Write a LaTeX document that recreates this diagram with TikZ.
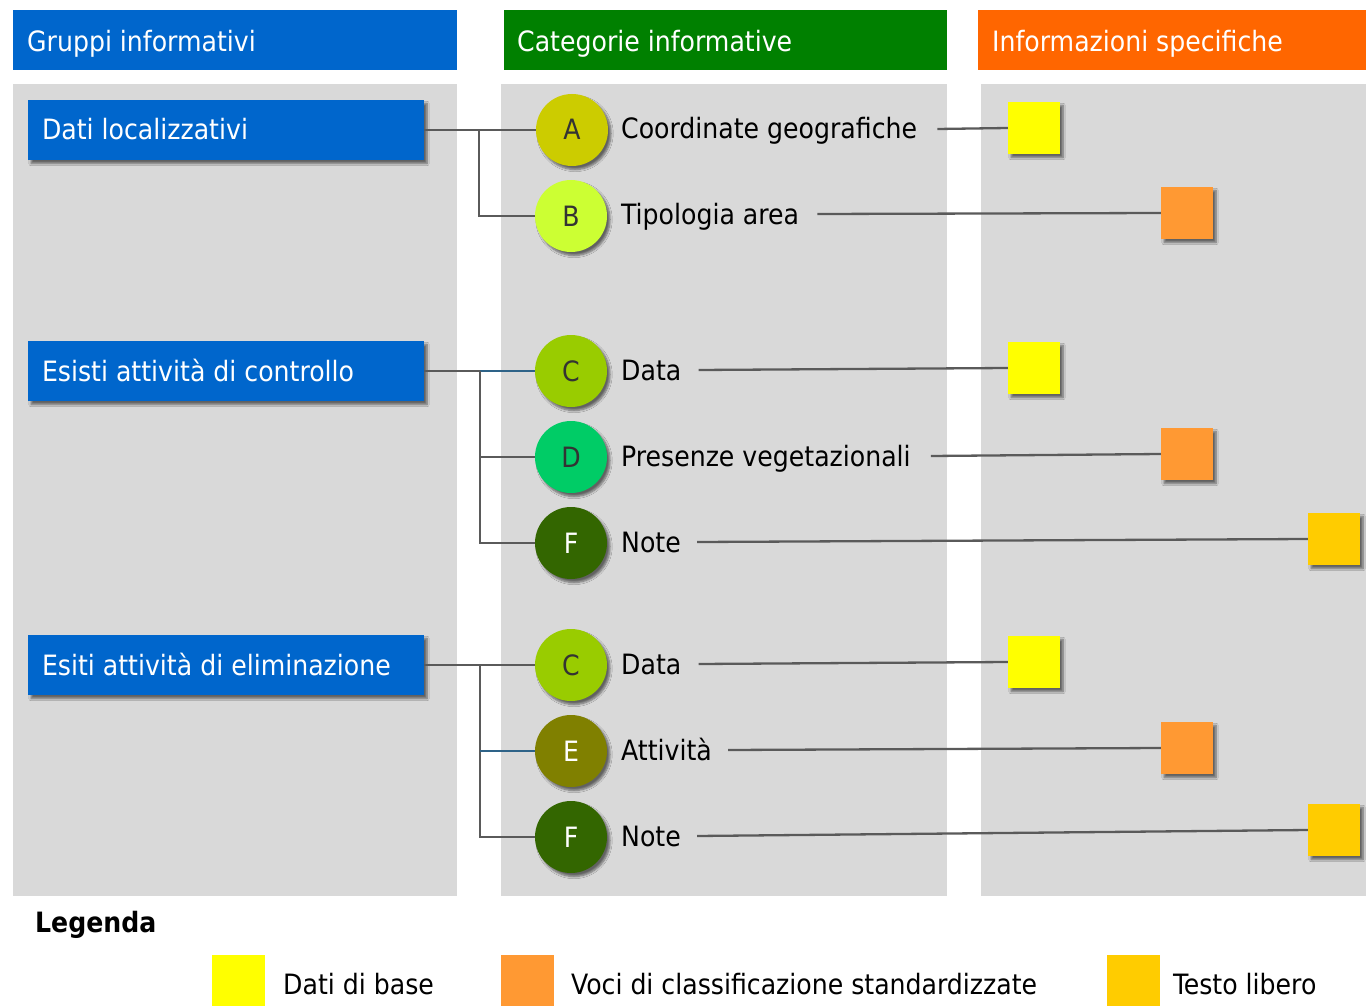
\documentclass[tikz,border=0pt]{standalone}
\usepackage{fontspec}
\setmainfont{DejaVu Sans Condensed}[BoldFont={DejaVu Sans Condensed Bold}]
\usetikzlibrary{shadows.blur}

\definecolor{hblue}{HTML}{0066CC}
\definecolor{hgreen}{HTML}{008000}
\definecolor{horange}{HTML}{FF6600}
\definecolor{panel}{HTML}{D9D9D9}
\definecolor{linegray}{HTML}{5A5A5A}
\definecolor{lineblue}{HTML}{2E6388}
\definecolor{cAcol}{HTML}{CCCC00}
\definecolor{cBcol}{HTML}{CCFF33}
\definecolor{cCcol}{HTML}{99CC00}
\definecolor{cDcol}{HTML}{00CC66}
\definecolor{cEcol}{HTML}{808000}
\definecolor{cFcol}{HTML}{336600}
\definecolor{sqyellow}{HTML}{FFFF00}
\definecolor{sqorange}{HTML}{FF9933}
\definecolor{sqgold}{HTML}{FFCC00}
\definecolor{darktxt}{HTML}{333333}

\tikzset{
  txt/.style={anchor=west, inner sep=0pt, text height=20pt, text depth=0pt},
  headbox/.style={anchor=north west, inner sep=0pt, minimum height=60pt},
  softshadow/.style={blur shadow={shadow xshift=3pt, shadow yshift=-3.5pt,
    shadow blur steps=6, shadow opacity=55}},
  groupbox/.style={fill=hblue, inner sep=0pt, minimum width=396pt, minimum height=60pt, softshadow},
  circ/.style={circle, inner sep=0pt, minimum size=72pt, text=darktxt,
    text height=20pt, text depth=0pt, softshadow},
  sq/.style={inner sep=0pt, minimum size=52pt, softshadow},
  legsq/.style={inner sep=0pt, minimum width=53pt, minimum height=60pt},
  conn/.style={draw=linegray, line width=2.3pt},
  connb/.style={draw=lineblue, line width=2.3pt},
}

\begin{document}
\begin{tikzpicture}[x=1pt, y=-1pt, font=\fontsize{28}{32}\selectfont]
\useasboundingbox (0,0) rectangle (1366,1006);
\fill[white] (0,0) rectangle (1366,1006);

% column headers
\node[headbox, fill=hblue, minimum width=444pt] (h1) at (13,10) {};
\node[headbox, fill=hgreen, minimum width=443pt] (h2) at (504,10) {};
\node[headbox, fill=horange, minimum width=388pt] (h3) at (978,10) {};
\node[txt, text=white] (h1t) at (27,42) {Gruppi informativi};
\node[txt, text=white] (h2t) at (517,42) {Categorie informative};
\node[txt, text=white] (h3t) at (992,42) {Informazioni specifiche};

% column panels
\fill[panel] (13,84) rectangle (457,896);
\fill[panel] (501,84) rectangle (947,896);
\fill[panel] (981,84) rectangle (1366,896);

% information groups
\node[groupbox] (g1) at (226,130) {};
\node[groupbox] (g2) at (226,371) {};
\node[groupbox] (g3) at (226,665) {};
\node[txt, text=white] (g1t) at ([xshift=14pt]g1.west) {Dati localizzativi};
\node[txt, text=white] (g2t) at ([xshift=14pt]g2.west) {Esisti attività di controllo};
\node[txt, text=white] (g3t) at ([xshift=14pt]g3.west) {Esiti attività di eliminazione};

% categories
\node[circ, fill=cAcol] (cA) at (572,130) {A};
\node[circ, fill=cBcol] (cB) at (571,216) {B};
\node[circ, fill=cCcol] (cC1) at (571,371) {C};
\node[circ, fill=cDcol] (cD) at (571,457) {D};
\node[circ, fill=cFcol, text=white] (cF1) at (571,543) {F};
\node[circ, fill=cCcol] (cC2) at (571,665) {C};
\node[circ, fill=cEcol, text=white] (cE) at (571,751) {E};
\node[circ, fill=cFcol, text=white] (cF2) at (571,837) {F};

\node[txt] (lA) at (621,129) {Coordinate geografiche};
\node[txt] (lB) at (621,214) {Tipologia area};
\node[txt] (lC1) at (621,370) {Data};
\node[txt] (lD) at (621,456) {Presenze vegetazionali};
\node[txt] (lF1) at (621,542) {Note};
\node[txt] (lC2) at (621,664) {Data};
\node[txt] (lE) at (621,750) {Attività};
\node[txt] (lF2) at (621,836) {Note};

% specific information markers
\node[sq, fill=sqyellow] (sA) at (1034,128) {};
\node[sq, fill=sqorange] (sB) at (1187,213) {};
\node[sq, fill=sqyellow] (sC1) at (1034,368) {};
\node[sq, fill=sqorange] (sD) at (1187,454) {};
\node[sq, fill=sqgold] (sF1) at (1334,539) {};
\node[sq, fill=sqyellow] (sC2) at (1034,662) {};
\node[sq, fill=sqorange] (sE) at (1187,748) {};
\node[sq, fill=sqgold] (sF2) at (1334,830) {};

% group to category connectors
\coordinate (t1) at (479,130);
\coordinate (t2) at (480,371);
\coordinate (t3) at (480,665);
\coordinate (t3e) at (480,751);
\draw[conn] (g1.east) -- (cA.west);
\draw[conn] (t1) |- (cB.west);
\draw[conn] (g2.east) -- (t2);
\draw[connb] (t2) -- (cC1.west);
\draw[conn] (t2) |- (cD.west);
\draw[conn] (t2) |- (cF1.west);
\draw[conn] (g3.east) -- (cC2.west);
\draw[conn] (t3) |- (cF2.west);
\draw[connb] (t3e) -- (cE.west);

% category to marker connectors
\draw[conn] ([xshift=20pt]lA.east) -- (sA.west);
\draw[conn] ([xshift=18pt]lB.east) -- (sB.west);
\draw[conn] ([xshift=17pt]lC1.east) -- (sC1.west);
\draw[conn] ([xshift=20pt]lD.east) -- (sD.west);
\draw[conn] ([xshift=16pt]lF1.east) -- (sF1.west);
\draw[conn] ([xshift=17pt]lC2.east) -- (sC2.west);
\draw[conn] ([xshift=16pt]lE.east) -- (sE.west);
\draw[conn] ([xshift=16pt]lF2.east) -- (sF2.west);

% legend
\node[txt, font=\fontsize{28}{32}\selectfont\bfseries] (leg) at (35,922) {Legenda};
\node[legsq, fill=sqyellow] (k1) at (238.5,985) {};
\node[legsq, fill=sqorange] (k2) at (527.5,985) {};
\node[legsq, fill=sqgold] (k3) at (1133.5,985) {};
\node[txt] (k1t) at (283,984) {Dati di base};
\node[txt] (k2t) at (571,984) {Voci di classificazione standardizzate};
\node[txt] (k3t) at (1173,984) {Testo libero};
\end{tikzpicture}
\end{document}
